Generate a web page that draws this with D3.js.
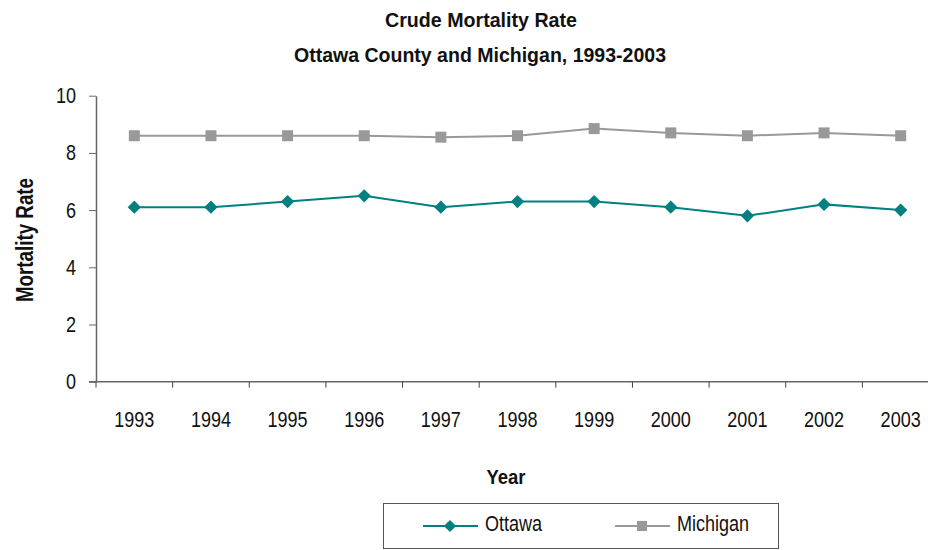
<!DOCTYPE html>
<html lang="en">
  <head>
    <meta charset="UTF-8" />
    <title>Crude Mortality Rate</title>
    <script src="https://d3js.org/d3.v7.min.js"></script>
    <style>
      body { margin: 0; background: #fff; }
      text { font-family: "Liberation Sans", Arial, sans-serif; fill: #111; }
    </style>
  </head>
  <body>
    <svg id="chart" width="928" height="550"></svg>
    <script>
      const years = ["1993", "1994", "1995", "1996", "1997", "1998", "1999", "2000", "2001", "2002", "2003"];
      const ottawa = [6.1, 6.1, 6.3, 6.5, 6.1, 6.3, 6.3, 6.1, 5.8, 6.2, 6.0];
      const michigan = [8.6, 8.6, 8.6, 8.6, 8.55, 8.6, 8.85, 8.7, 8.6, 8.7, 8.6];
      const yTicks = [0, 2, 4, 6, 8, 10];

      const series = [
        { name: "Ottawa", values: ottawa, color: "#008080", shape: d3.symbolSquare, size: 88, rotate: 45 },
        { name: "Michigan", values: michigan, color: "#999999", shape: d3.symbolSquare, size: 121, rotate: 0 },
      ];

      const svg = d3.select("#chart");
      const margin = { left: 96, right: 939, top: 95.7, bottom: 381.7 };
      const squeeze = 0.82; // the source font is a narrow sans

      const x = d3.scaleBand().domain(years).range([margin.left, margin.right]);
      const y = d3.scaleLinear().domain([0, 10]).range([margin.bottom, margin.top]);

      // place a horizontally squeezed text
      function narrow(sel, px, py) {
        return sel.attr("x", px / squeeze).attr("y", py).attr("transform", "scale(" + squeeze + ",1)");
      }

      // titles
      svg.append("text").attr("x", 481).attr("y", 27).attr("text-anchor", "middle")
        .attr("font-size", 21).attr("font-weight", "bold")
        .attr("textLength", 192).attr("lengthAdjust", "spacingAndGlyphs")
        .text("Crude Mortality Rate");
      svg.append("text").attr("x", 480).attr("y", 62).attr("text-anchor", "middle")
        .attr("font-size", 21).attr("font-weight", "bold")
        .attr("textLength", 372).attr("lengthAdjust", "spacingAndGlyphs")
        .text("Ottawa County and Michigan, 1993-2003");

      // y axis
      const yAxis = svg.append("g")
        .attr("transform", "translate(" + margin.left + ",0)")
        .call(d3.axisLeft(y).tickValues(yTicks).tickSize(7).tickSizeOuter(0));
      yAxis.select(".domain").attr("stroke", "#666").attr("stroke-width", 1.5);
      yAxis.selectAll(".tick line").attr("stroke", "#666");
      yAxis.selectAll(".tick text")
        .attr("font-size", 22).attr("font-family", null).attr("fill", "#111")
        .attr("x", -20 / squeeze).attr("transform", "scale(" + squeeze + ",1)");

      // x axis, ticks between categories
      const xAxis = svg.append("g").attr("transform", "translate(0," + margin.bottom + ")");
      xAxis.append("line")
        .attr("x1", margin.left - 7).attr("x2", margin.right)
        .attr("stroke", "#666").attr("stroke-width", 1.5);
      xAxis.selectAll("line.tick")
        .data(years)
        .join("line")
        .attr("class", "tick")
        .attr("x1", (d) => x(d)).attr("x2", (d) => x(d))
        .attr("y1", 0).attr("y2", 6)
        .attr("stroke", "#444").attr("stroke-width", 1);
      xAxis.selectAll("text")
        .data(years)
        .join("text")
        .call((t) => t.each(function (d) {
          narrow(d3.select(this), x(d) + x.bandwidth() / 2, 45);
        }))
        .attr("text-anchor", "middle")
        .attr("font-size", 22)
        .text((d) => d);

      // axis titles
      svg.append("text").attr("x", 506).attr("y", 484).attr("text-anchor", "middle")
        .attr("font-size", 21).attr("font-weight", "bold")
        .attr("textLength", 39).attr("lengthAdjust", "spacingAndGlyphs")
        .text("Year");
      svg.append("text")
        .attr("transform", "translate(33,240) rotate(-90)")
        .attr("text-anchor", "middle")
        .attr("font-size", 23).attr("font-weight", "bold")
        .attr("textLength", 124).attr("lengthAdjust", "spacingAndGlyphs")
        .text("Mortality Rate");

      // lines + markers
      const cx = (i) => x(years[i]) + x.bandwidth() / 2;
      const line = d3.line().x((d, i) => cx(i)).y((d) => y(d));

      series.forEach((s) => {
        svg.append("path")
          .datum(s.values)
          .attr("fill", "none")
          .attr("stroke", s.color)
          .attr("stroke-width", 2)
          .attr("d", line);
        svg.selectAll(null)
          .data(s.values)
          .join("path")
          .attr("transform", (d, i) => "translate(" + cx(i) + "," + y(d) + ") rotate(" + s.rotate + ")")
          .attr("d", d3.symbol().type(s.shape).size(s.size))
          .attr("fill", s.color);
      });

      // legend
      const legend = svg.append("g");
      legend.append("rect")
        .attr("x", 383.5).attr("y", 503.5).attr("width", 395).attr("height", 45)
        .attr("fill", "none").attr("stroke", "#555").attr("stroke-width", 1);
      const legendX = [423, 615];
      series.forEach((s, i) => {
        const g = legend.append("g").attr("transform", "translate(" + legendX[i] + ",526)");
        g.append("line").attr("x1", 0).attr("x2", 55)
          .attr("stroke", s.color).attr("stroke-width", 2);
        g.append("path")
          .attr("transform", "translate(27,0) rotate(" + s.rotate + ")")
          .attr("d", d3.symbol().type(s.shape).size(s.size * 0.85))
          .attr("fill", s.color);
        narrow(g.append("text"), 62, 5)
          .attr("font-size", 22).text(s.name);
      });
    </script>
  </body>
</html>
